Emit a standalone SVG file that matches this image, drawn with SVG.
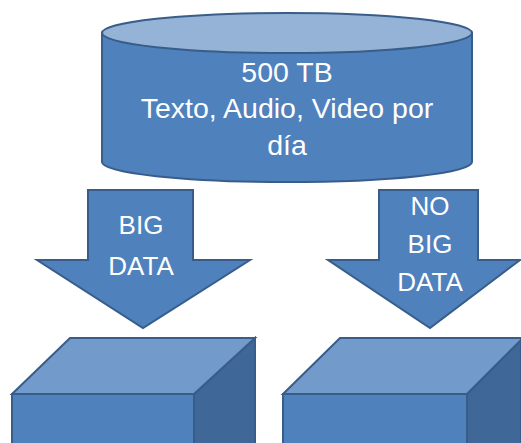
<svg xmlns="http://www.w3.org/2000/svg" width="521" height="443" viewBox="0 0 521 443">
  <style>
    .shape { fill: #4F81BD; stroke: #385D8A; stroke-width: 2; stroke-linejoin: miter; }
    .top-light { fill: #95B3D7; stroke: #385D8A; stroke-width: 2; }
    .box-top { fill: #729ACA; stroke: #385D8A; stroke-width: 2; }
    .box-side { fill: #3F6797; stroke: #385D8A; stroke-width: 2; }
    .label { fill: #FFFFFF; font-family: "Liberation Sans", Arial, sans-serif; text-anchor: middle; }
    .big { font-size: 28.5px; }
    .arrow-label { font-size: 26px; }
  </style>
  <rect width="521" height="443" fill="#FFFFFF"/>

  <!-- Data source cylinder -->
  <g id="source">
    <path class="shape" d="M102,33 L102,162 A185,20 0 0 0 472,162 L472,33 Z"/>
    <ellipse class="top-light" cx="287" cy="33" rx="185" ry="20"/>
    <text class="label big" x="287" y="82">500 TB</text>
    <text class="label big" x="287" y="118">Texto, Audio, Video por</text>
    <text class="label big" x="287" y="155">día</text>
  </g>

  <!-- Downward block arrows -->
  <g id="connectors">
    <g id="arrow-big-data">
      <polygon class="shape" points="88,190 193,190 193,260 250,260 143,328 37,260 88,260"/>
      <text class="label arrow-label" x="141" y="234">BIG</text>
      <text class="label arrow-label" x="141" y="275">DATA</text>
    </g>
    <g id="arrow-no-big-data">
      <polygon class="shape" points="379,190 478,190 478,260 520,260 430,328 328,260 379,260"/>
      <text class="label arrow-label" x="430" y="215">NO</text>
      <text class="label arrow-label" x="430" y="253">BIG</text>
      <text class="label arrow-label" x="430" y="291">DATA</text>
    </g>
  </g>

  <!-- Destination boxes -->
  <g id="box-left">
    <polygon class="box-side" points="194,394 255,338 255,450 194,450"/>
    <polygon class="box-top" points="12,394 70,338 255,338 194,394"/>
    <rect class="shape" x="12" y="394" width="182" height="60"/>
  </g>
  <g id="box-right">
    <polygon class="box-side" points="467,394 521,340 521,450 467,450"/>
    <polygon class="box-top" points="283,394 340,338 521,338 521,340 467,394"/>
    <rect class="shape" x="283" y="394" width="184" height="60"/>
  </g>
</svg>
